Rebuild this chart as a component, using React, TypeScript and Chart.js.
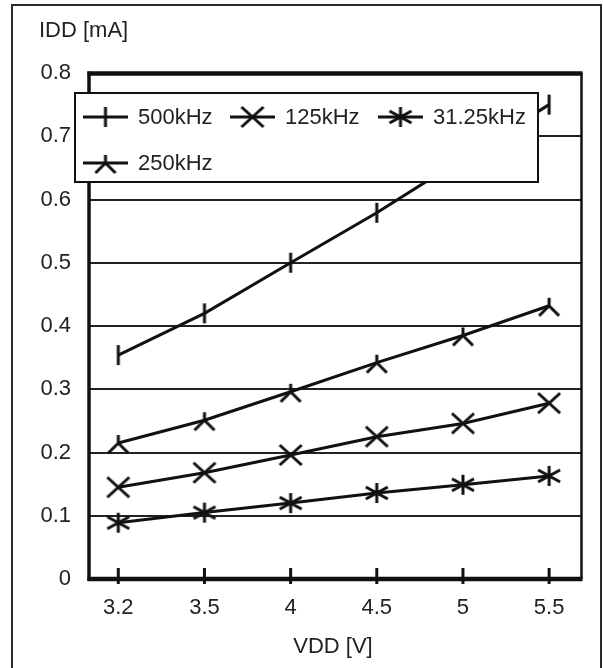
import { useEffect, useRef } from 'react';
import { Chart, registerables } from 'chart.js';

Chart.register(...registerables);

// ---- data ----
const categories = ['3.2', '3.5', '4', '4.5', '5', '5.5'];
const seriesNames = ['500kHz', '125kHz', '31.25kHz', '250kHz'];
const idd500 = [0.354, 0.42, 0.5, 0.579, 0.665, 0.75];
const idd125 = [0.145, 0.168, 0.196, 0.225, 0.246, 0.278];
const idd31 = [0.089, 0.105, 0.12, 0.136, 0.149, 0.163];
const idd250 = [0.215, 0.251, 0.296, 0.342, 0.385, 0.432];
const yMin = 0;
const yMax = 0.8;
const yStep = 0.1;
const xTitle = 'VDD [V]';
const yTitle = 'IDD [mA]';

const FONT = '"Liberation Sans", Arial, sans-serif';
const TEXT = '#222';
const INK = '#111';

type Kind = 'bar' | 'x' | 'star' | 'tri';

function makeMarker(kind: Kind): HTMLCanvasElement {
  const c = document.createElement('canvas');
  c.width = 32;
  c.height = 32;
  const g = c.getContext('2d')!;
  g.strokeStyle = INK;
  g.lineWidth = 3;
  g.lineCap = 'butt';
  const m = 16;
  g.beginPath();
  if (kind === 'bar') {
    g.moveTo(m, m - 10);
    g.lineTo(m, m + 10);
  } else if (kind === 'x') {
    g.moveTo(m - 11, m - 10);
    g.lineTo(m + 11, m + 10);
    g.moveTo(m - 11, m + 10);
    g.lineTo(m + 11, m - 10);
  } else if (kind === 'star') {
    g.moveTo(m, m - 10);
    g.lineTo(m, m + 10);
    g.moveTo(m - 11, m - 6);
    g.lineTo(m + 11, m + 6);
    g.moveTo(m - 11, m + 6);
    g.lineTo(m + 11, m - 6);
  } else {
    g.moveTo(m, m - 8);
    g.lineTo(m, m);
    g.moveTo(m - 10, m + 10);
    g.lineTo(m, m);
    g.lineTo(m + 10, m + 10);
  }
  g.stroke();
  return c;
}

export default function App() {
  const ref = useRef<HTMLCanvasElement | null>(null);

  useEffect(() => {
    if (!ref.current) return;
    const kinds: Kind[] = ['bar', 'x', 'star', 'tri'];
    const markers = kinds.map(makeMarker);
    const seriesData = [idd500, idd125, idd31, idd250];

    const deco = {
      id: 'deco',
      afterDraw(chart: any) {
        const ctx = chart.ctx as CanvasRenderingContext2D;
        const a = chart.chartArea;
        const xs = chart.scales.x;
        ctx.save();
        // outer frame
        ctx.strokeStyle = '#2b2b2b';
        ctx.lineWidth = 2;
        ctx.beginPath();
        ctx.moveTo(12, 668);
        ctx.lineTo(12, 5);
        ctx.lineTo(601, 5);
        ctx.lineTo(601, 668);
        ctx.stroke();

        // plot frame
        ctx.strokeStyle = INK;
        const seg = (x1: number, y1: number, x2: number, y2: number, w: number) => {
          ctx.lineWidth = w;
          ctx.beginPath();
          ctx.moveTo(x1, y1);
          ctx.lineTo(x2, y2);
          ctx.stroke();
        };
        seg(a.left - 1.5, a.top + 0.5, a.right + 1.5, a.top + 0.5, 4.5);
        seg(a.left, a.top - 1.5, a.left, a.bottom + 2, 3.5);
        seg(a.left - 1.5, a.bottom, a.right + 1.5, a.bottom, 4.5);
        seg(a.right + 0.5, a.top, a.right + 0.5, a.bottom, 2.5);

        // x tick marks
        categories.forEach((_, i) => {
          const px = xs.getPixelForValue(i);
          seg(px, a.bottom - 11, px, a.bottom + 5, 3);
        });

        // axis titles
        ctx.fillStyle = TEXT;
        ctx.font = `22px ${FONT}`;
        ctx.textBaseline = 'middle';
        ctx.textAlign = 'left';
        ctx.fillText(yTitle, 39, 31);
        ctx.textAlign = 'center';
        ctx.fillText(xTitle, 333, 647);

        // legend box
        ctx.fillStyle = '#fff';
        ctx.fillRect(75, 93, 463, 89);
        ctx.strokeStyle = INK;
        ctx.lineWidth = 2;
        ctx.strokeRect(75, 93, 463, 89);

        const slots = [
          { x: 83, y: 117 },
          { x: 230, y: 117 },
          { x: 378, y: 117 },
          { x: 83, y: 163 },
        ];
        seriesNames.forEach((name, i) => {
          const s = slots[i];
          seg(s.x, s.y, s.x + 45, s.y, 3);
          const mk = markers[i];
          ctx.drawImage(mk, s.x + 22.5 - mk.width / 2, s.y - mk.height / 2);
          ctx.fillStyle = TEXT;
          ctx.textAlign = 'left';
          ctx.textBaseline = 'middle';
          ctx.fillText(name, s.x + 55, s.y + 1);
        });
        ctx.restore();
      },
    };

    const chart = new Chart(ref.current, {
      type: 'line',
      data: {
        datasets: seriesNames.map((name, i) => ({
          label: name,
          data: seriesData[i].map((v, j) => ({ x: j, y: v })),
          borderColor: INK,
          borderWidth: 3,
          backgroundColor: INK,
          pointStyle: markers[i] as any,
          pointRadius: 6,
          tension: 0,
          fill: false,
          clip: false as any,
        })),
      },
      options: {
        animation: false,
        responsive: false,
        layout: { padding: { left: 0, top: 73, right: 22, bottom: 0 } },
        plugins: {
          legend: { display: false },
          tooltip: { enabled: false },
        },
        scales: {
          x: {
            type: 'linear',
            min: -0.34,
            max: 5.37,
            afterBuildTicks: (s: any) => {
              s.ticks = categories.map((_, i) => ({ value: i }));
            },
            afterFit: (s: any) => {
              s.height = 89;
            },
            grid: { display: false, drawTicks: false },
            border: { display: false },
            ticks: {
              callback: (v: any) => categories[Math.round(v)] ?? '',
              padding: 16,
              maxRotation: 0,
              autoSkip: false,
              color: TEXT,
              font: { family: FONT, size: 22 },
            },
          },
          y: {
            min: yMin,
            max: yMax,
            afterFit: (s: any) => {
              s.width = 89;
            },
            grid: { color: '#222', lineWidth: 2, drawTicks: false },
            border: { display: false },
            ticks: {
              stepSize: yStep,
              padding: 18,
              color: TEXT,
              font: { family: FONT, size: 22 },
              callback: (v: any) => {
                const r = Math.round(v * 10) / 10;
                return r === 0 ? '0' : r.toFixed(1);
              },
            },
          },
        },
      },
      plugins: [deco],
    } as any);

    return () => chart.destroy();
  }, []);

  return (
    <div style={{ position: 'absolute', left: 0, top: 0, width: 603, height: 668, background: '#fff' }}>
      <canvas ref={ref} width={603} height={668} style={{ display: 'block', width: 603, height: 668 }} />
    </div>
  );
}
